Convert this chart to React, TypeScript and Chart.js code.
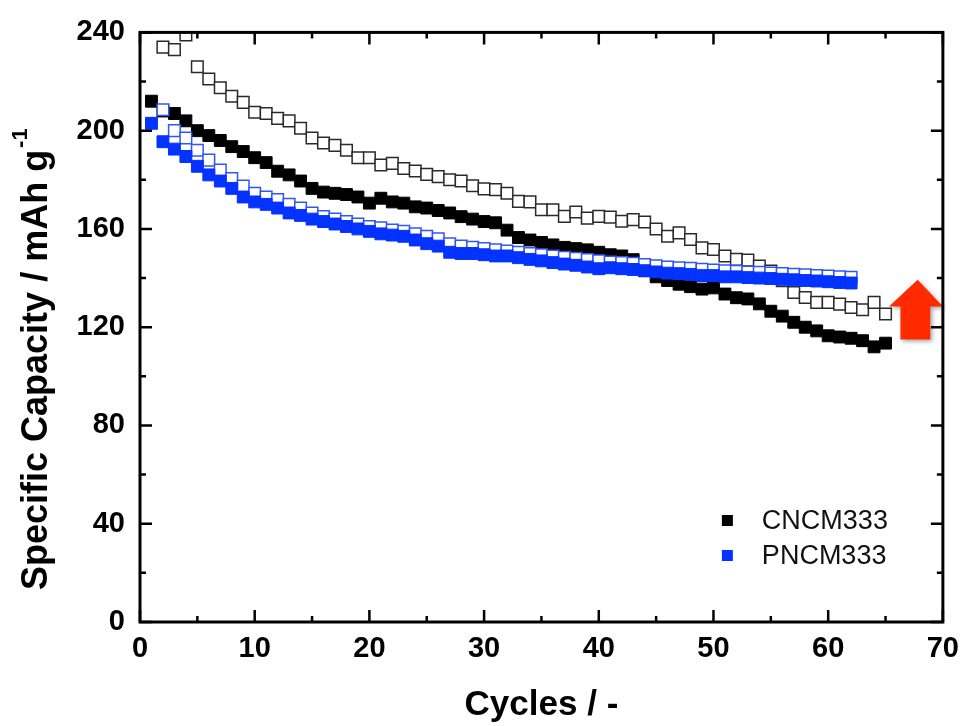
import React, { useEffect, useRef } from "react";
import { Chart, registerables } from "chart.js";

Chart.register(...registerables);

const FONT = '"Liberation Sans", Arial, Helvetica, sans-serif';

// ---- data ----
const CYCLES = [
  1, 2, 3, 4, 5, 6, 7, 8, 9, 10, 11, 12, 13, 14, 15, 16, 17, 18, 19, 20,
  21, 22, 23, 24, 25, 26, 27, 28, 29, 30, 31, 32, 33, 34, 35, 36, 37, 38, 39, 40,
  41, 42, 43, 44, 45, 46, 47, 48, 49, 50, 51, 52, 53, 54, 55, 56, 57, 58, 59, 60,
  61, 62, 63, 64, 65,
];

// CNCM333 discharge (filled black), cycles 1..65
const CNCM_DISCHARGE = [
  212, 208, 207, 204, 200, 198, 196, 193.5, 191.5, 189, 187, 183.5, 182, 179.5, 176.5,
  175, 174.5, 174, 173, 170.5, 172.5, 171, 170.5, 169, 168.5, 167.5, 166.5, 165, 164, 163,
  162.5, 159.5, 156.5, 155.5, 154.5, 153.5, 152.5, 152, 151.5, 150.5, 149.5, 149, 147.5, 143,
  140.5, 139, 137.5, 136.5, 135.5, 136, 133.5, 132, 131.5, 129.5, 126.5, 124.5, 122, 120,
  118.5, 116.5, 116, 115.5, 114.5, 112, 113.5,
];
// CNCM333 charge (open black), cycles 2..65
const CNCM_CHARGE = [
  234, 233, 239, 226, 221, 217.5, 214, 211.5, 207.5, 207, 205, 204, 201, 197, 195, 194, 192,
  189, 189, 186, 186.7, 184.6, 183.6, 182.2, 181.3, 180, 179.5, 177.6, 176.3, 176, 174.5,
  171.2, 171, 167.8, 167.8, 165.1, 166.9, 164.4, 165.1, 164.8, 163.1, 163.8, 162.8, 160, 157,
  158.4, 155.7, 152.3, 151.6, 149, 147.6, 147.3, 144.9, 142.9, 138.9, 134.1, 132.1, 130.1,
  130.1, 129.4, 128, 127.1, 130.1, 125.4,
];
// PNCM333 discharge (filled blue), cycles 1..62
const PNCM_DISCHARGE = [
  203, 195.5, 192.5, 189.5, 185.5, 182, 179.5, 176.5, 173, 171, 170, 168.5, 166.5, 165.5,
  164, 163, 162, 161, 160, 159, 158, 157.5, 157, 155.5, 154, 153, 150.5, 150, 150, 149.5,
  149, 149, 148.3, 147.6, 147, 146.3, 145.7, 145.2, 144.5, 143.8, 144.2, 143.8, 143.5, 143,
  142.5, 142, 141.8, 141.5, 141, 141, 140.5, 140.5, 140.2, 140, 139.8, 139.5, 139.3, 139,
  138.8, 138.5, 138.2, 138,
];
// PNCM333 charge (open blue), cycles 2..62
const PNCM_CHARGE = [
  208.5, 200, 197, 192, 188, 184, 180.5, 177.5, 174.5, 173, 172, 170, 168.5, 166.5, 165, 164,
  163, 162, 161, 160.5, 159.5, 159, 158, 157, 156, 154, 153, 152.5, 152, 151.5, 151, 150.5,
  150, 149.5, 149, 148.5, 148, 147.5, 147, 146.5, 146.3, 146, 145.5, 145, 144.5, 144.2, 144,
  143.6, 143.3, 143, 142.8, 142.5, 142.3, 142, 141.8, 141.5, 141.3, 141, 140.8, 140.5, 140.3,
];

const X_MAJOR = [0, 10, 20, 30, 40, 50, 60, 70];
const X_MINOR = [5, 15, 25, 35, 45, 55, 65];
const Y_MAJOR = [0, 40, 80, 120, 160, 200, 240];
const Y_MINOR = [20, 60, 100, 140, 180, 220];

const LEGEND_LABELS = ["CNCM333", "PNCM333"];
const X_TITLE = "Cycles / -";
const Y_TITLE = "Specific Capacity / mAh g";
const Y_TITLE_SUP = "-1";

// arrow annotation in data units
const ARROW_TIP = [67.8, 139.3];
const ARROW_HEAD_X = [65.3, 70.0];
const ARROW_HEAD_Y = 128.4;
const ARROW_SHAFT_X = [66.3, 68.9];
const ARROW_BOTTOM_Y = 115;

const BLACK = "#000000";
const BLACK_OPEN = "#2a2a2a";
const BLUE = "#0432ff";
const BLUE_OPEN = "#2f55ff";
const ARROW_COLOR = "#ff2a00";

function pts(xs: number[], ys: number[]) {
  return ys.map((y, i) => ({ x: xs[i], y }));
}

const decorPlugin = {
  id: "decor",
  afterDatasetsDraw(chart: any) {
    const { ctx, chartArea: a, scales } = chart;
    const xs = scales.x;
    const ys = scales.y;
    const px = (v: number) => xs.getPixelForValue(v);
    const py = (v: number) => ys.getPixelForValue(v);

    // arrow
    ctx.save();
    ctx.fillStyle = ARROW_COLOR;
    ctx.shadowColor = "rgba(0,0,0,0.35)";
    ctx.shadowBlur = 4;
    ctx.shadowOffsetX = 2;
    ctx.shadowOffsetY = 2;
    ctx.beginPath();
    ctx.moveTo(px(ARROW_TIP[0]), py(ARROW_TIP[1]));
    ctx.lineTo(px(ARROW_HEAD_X[1]), py(ARROW_HEAD_Y));
    ctx.lineTo(px(ARROW_SHAFT_X[1]), py(ARROW_HEAD_Y));
    ctx.lineTo(px(ARROW_SHAFT_X[1]), py(ARROW_BOTTOM_Y));
    ctx.lineTo(px(ARROW_SHAFT_X[0]), py(ARROW_BOTTOM_Y));
    ctx.lineTo(px(ARROW_SHAFT_X[0]), py(ARROW_HEAD_Y));
    ctx.lineTo(px(ARROW_HEAD_X[0]), py(ARROW_HEAD_Y));
    ctx.closePath();
    ctx.fill();
    ctx.restore();

    // ticks (inward, all four sides)
    ctx.save();
    ctx.strokeStyle = "#000";
    ctx.lineWidth = 2.5;
    ctx.lineCap = "butt";
    const drawX = (v: number, len: number) => {
      const x = px(v);
      ctx.beginPath();
      ctx.moveTo(x, a.bottom);
      ctx.lineTo(x, a.bottom - len);
      ctx.moveTo(x, a.top);
      ctx.lineTo(x, a.top + len);
      ctx.stroke();
    };
    const drawY = (v: number, len: number) => {
      const y = py(v);
      ctx.beginPath();
      ctx.moveTo(a.left, y);
      ctx.lineTo(a.left + len, y);
      ctx.moveTo(a.right, y);
      ctx.lineTo(a.right - len, y);
      ctx.stroke();
    };
    X_MAJOR.forEach((v) => drawX(v, 12));
    X_MINOR.forEach((v) => drawX(v, 6));
    Y_MAJOR.forEach((v) => drawY(v, 12));
    Y_MINOR.forEach((v) => drawY(v, 6));
    // frame
    ctx.lineWidth = 3;
    ctx.strokeRect(a.left, a.top, a.right - a.left, a.bottom - a.top);
    ctx.restore();
  },
  afterDraw(chart: any) {
    const { ctx, chartArea: a } = chart;
    ctx.save();
    // legend
    const colors = [BLACK, BLUE];
    const rows = [a.bottom - 101.5, a.bottom - 66.5];
    LEGEND_LABELS.forEach((label, i) => {
      const cx = a.right - 215.5;
      const cy = rows[i];
      ctx.fillStyle = colors[i];
      ctx.fillRect(cx - 5.5, cy - 5.5, 11, 11);
      ctx.fillStyle = "#111";
      ctx.font = `27px ${FONT}`;
      ctx.textAlign = "left";
      ctx.textBaseline = "middle";
      ctx.fillText(label, a.right - 181, cy + 1);
    });

    // y title with superscript
    ctx.translate(37, 590);
    ctx.rotate(-Math.PI / 2);
    ctx.fillStyle = "#000";
    ctx.font = `bold 36px ${FONT}`;
    ctx.textAlign = "left";
    ctx.textBaseline = "middle";
    ctx.fillText(Y_TITLE, 0, 0);
    const w = ctx.measureText(Y_TITLE).width;
    ctx.font = `bold 22px ${FONT}`;
    ctx.fillText(Y_TITLE_SUP, w + 2, -16);
    ctx.restore();
  },
};

export default function App() {
  const ref = useRef<HTMLCanvasElement>(null);
  useEffect(() => {
    document.body.style.margin = "0";
    const canvas = ref.current!;
    const chart = new Chart(canvas, {
      type: "scatter",
      data: {
        datasets: [
          {
            label: "PNCM333",
            data: pts(CYCLES, PNCM_DISCHARGE),
            pointStyle: "rect",
            pointRadius: 8.4,
            backgroundColor: BLUE,
            borderColor: BLUE,
            borderWidth: 1,
          },
          {
            label: "PNCM333 charge",
            data: pts(CYCLES.slice(1), PNCM_CHARGE),
            pointStyle: "rect",
            pointRadius: 8.2,
            backgroundColor: "#ffffff",
            borderColor: BLUE_OPEN,
            borderWidth: 1.5,
          },
          {
            label: "CNCM333",
            data: pts(CYCLES, CNCM_DISCHARGE),
            pointStyle: "rect",
            pointRadius: 8.4,
            backgroundColor: BLACK,
            borderColor: BLACK,
            borderWidth: 1,
          },
          {
            label: "CNCM333 charge",
            data: pts(CYCLES.slice(1), CNCM_CHARGE),
            pointStyle: "rect",
            pointRadius: 8.2,
            backgroundColor: "#ffffff",
            borderColor: BLACK_OPEN,
            borderWidth: 1.5,
          },
        ],
      },
      options: {
        responsive: false,
        animation: false,
        devicePixelRatio: 1,
        layout: { padding: { left: 0, top: 28, right: 22, bottom: 0 } },
        plugins: {
          legend: { display: false },
          tooltip: { enabled: false },
        },
        scales: {
          x: {
            type: "linear",
            min: 0,
            max: 70,
            grid: { display: false, drawTicks: false },
            border: { display: false },
            ticks: {
              stepSize: 10,
              color: "#000",
              padding: 10,
              maxRotation: 0,
              font: { family: FONT, size: 29, weight: "bold" },
            },
            title: {
              display: true,
              text: X_TITLE,
              color: "#000",
              font: { family: FONT, size: 35, weight: "bold" },
              padding: { top: 0, bottom: 0 },
            },
            afterFit: (s: any) => {
              s.height = 104;
            },
          },
          y: {
            type: "linear",
            min: 0,
            max: 240,
            grid: { display: false, drawTicks: false },
            border: { display: false },
            ticks: {
              stepSize: 40,
              color: "#000",
              padding: 15,
              font: { family: FONT, size: 29, weight: "bold" },
            },
            afterFit: (s: any) => {
              s.width = 140;
            },
          },
        },
      },
      plugins: [decorPlugin],
    } as any);
    return () => chart.destroy();
  }, []);
  return (
    <div style={{ position: "absolute", left: 0, top: 0, width: 969, height: 726, background: "#fff" }}>
      <canvas ref={ref} width={969} height={726} style={{ display: "block", width: 969, height: 726 }} />
    </div>
  );
}
